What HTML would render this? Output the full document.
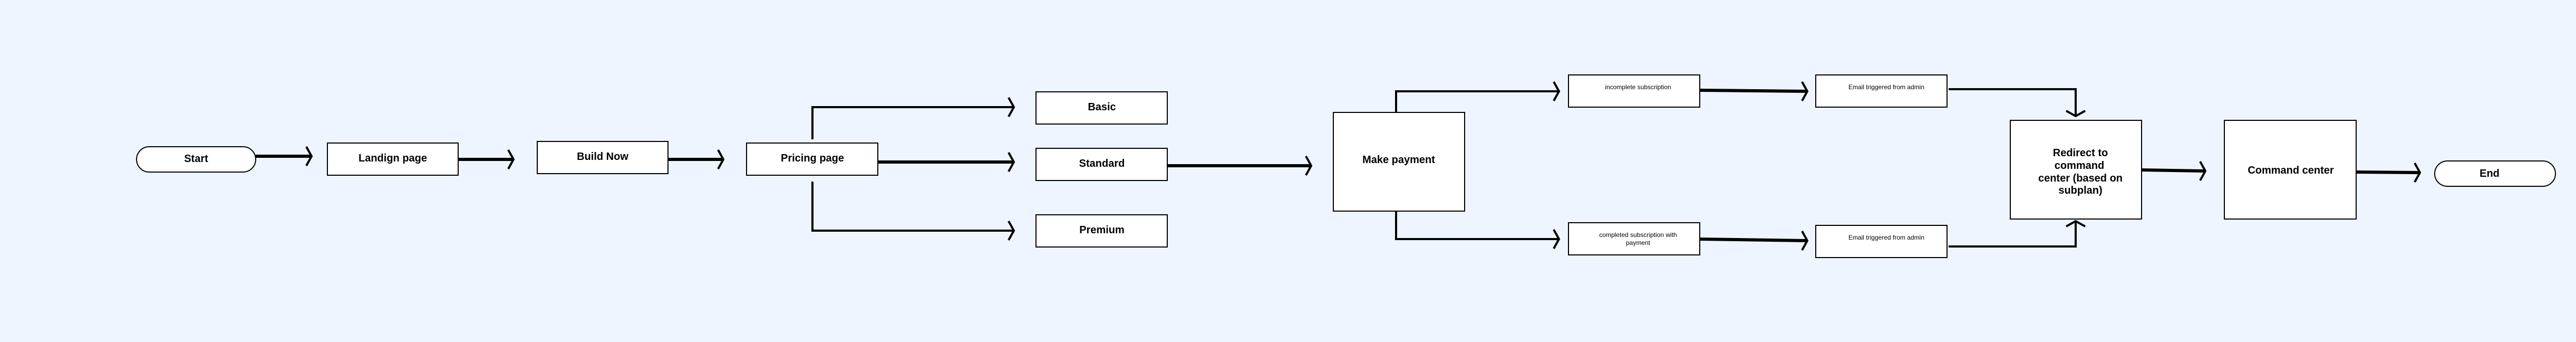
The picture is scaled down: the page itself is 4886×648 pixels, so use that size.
<!DOCTYPE html>
<html><head><meta charset="utf-8"><style>
html,body{margin:0;padding:0;background:#eef5fe;}
svg{display:block}
text{font-family:"Liberation Sans",sans-serif;fill:#000}
.b{font-size:20px;font-weight:600}
.s{font-size:12px}
</style></head><body>
<svg width="4886" height="648" viewBox="0 0 4886 648" xmlns="http://www.w3.org/2000/svg">
<rect width="4886" height="648" fill="#eef5fe"/>
<g fill="#fff" stroke="#000" stroke-width="2">
<rect x="259" y="278" width="226" height="48" rx="24"/>
<rect x="621" y="271" width="248" height="61"/>
<rect x="1019" y="268" width="248" height="61"/>
<rect x="1416" y="271" width="249" height="61"/>
<rect x="1965" y="174" width="249" height="61"/>
<rect x="1965" y="281" width="249" height="61"/>
<rect x="1965" y="407" width="249" height="61"/>
<rect x="2529" y="213" width="249" height="187"/>
<rect x="2975" y="142" width="249" height="61"/>
<rect x="2975" y="422" width="249" height="61"/>
<rect x="3444" y="142" width="249" height="61"/>
<rect x="3444" y="427" width="249" height="61"/>
<rect x="3813" y="228" width="249" height="187"/>
<rect x="4219" y="228" width="250" height="187"/>
<rect x="4618" y="305" width="229" height="48" rx="24"/>
</g>
<g fill="none" stroke="#000" stroke-width="6">
<path d="M485 296H590"/>
<path d="M869 302H973"/>
<path d="M1267 302H1371"/>
<path d="M1541 264V203H1922" stroke-width="4"/>
<path d="M1665 307H1922"/>
<path d="M1541 344V437H1922" stroke-width="4"/>
<path d="M2214 314H2485"/>
<path d="M2648 213V173H2956" stroke-width="4"/>
<path d="M2648 400V453H2956" stroke-width="4"/>
<path d="M3224 171L3427 173"/>
<path d="M3224 453L3427 456"/>
<path d="M3696 169H3937V219" stroke-width="4"/>
<path d="M3696 467H3937V420" stroke-width="4"/>
<path d="M4062 322L4182 324"/>
<path d="M4469 326L4589 327"/>
</g>
<g fill="none" stroke="#000" stroke-width="4" stroke-linejoin="miter">
<path d="M581 278L591 296L581 314"/>
<path d="M964 284L974 302L964 320"/>
<path d="M1362 284L1372 302L1362 320"/>
<path d="M1913 185L1923 203L1913 221"/>
<path d="M1913 289L1923 307L1913 325"/>
<path d="M1913 419L1923 437L1913 455"/>
<path d="M2477 296L2487 314L2477 332"/>
<path d="M2947 155L2957 173L2947 191"/>
<path d="M2947 435L2957 453L2947 471"/>
<path d="M3418 155L3428 173L3418 191"/>
<path d="M3418 438L3428 456L3418 474"/>
<path d="M3919 210L3937 220L3955 210"/>
<path d="M3919 429L3937 419L3955 429"/>
<path d="M4173 306L4183 324L4173 342"/>
<path d="M4580 309L4590 327L4580 345"/>
</g>
<g text-anchor="middle">
<text class="b" x="372" y="307">Start</text>
<text class="b" x="745" y="306">Landign page</text>
<text class="b" x="1143" y="303">Build Now</text>
<text class="b" x="1541" y="306">Pricing page</text>
<text class="b" x="2090" y="209">Basic</text>
<text class="b" x="2090" y="316">Standard</text>
<text class="b" x="2090" y="442">Premium</text>
<text class="b" x="2653" y="309">Make payment</text>
<text class="s" x="3107" y="169">incomplete subscription</text>
<text class="s" x="3107" y="449">completed subscription with</text>
<text class="s" x="3107" y="464">payment</text>
<text class="s" x="3578" y="169">Email triggered from admin</text>
<text class="s" x="3578" y="454">Email triggered from admin</text>
<text class="b" x="3946" y="296">Redirect to</text>
<text class="b" x="3944" y="320">command</text>
<text class="b" x="3946" y="344">center (based on</text>
<text class="b" x="3946" y="367">subplan)</text>
<text class="b" x="4345" y="329">Command center</text>
<text class="b" x="4722" y="335">End</text>
</g>
</svg>
</body></html>
